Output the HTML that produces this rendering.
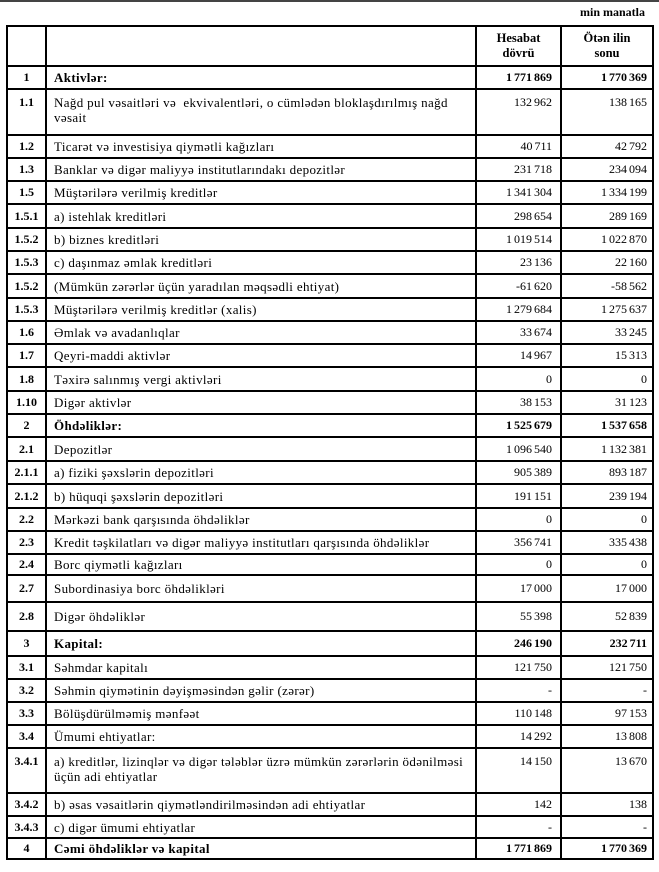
<!DOCTYPE html>
<html><head><meta charset="utf-8"><style>
html,body{margin:0;padding:0;background:#fff;width:659px;height:872px;overflow:hidden}
body{position:relative;font-family:"Liberation Serif","DejaVu Serif",serif;font-size:12px;color:#000}
.topline{position:absolute;left:0;top:0;width:659px;height:2px;background:#444}
.unit{position:absolute;right:14px;top:5px;font-weight:bold;font-size:12px}
table{position:absolute;left:6px;top:25px;border-collapse:collapse;table-layout:fixed;width:646px}
td{border:2px solid #000;padding:0 6px;vertical-align:middle;line-height:15px;overflow:hidden}
td.x{font-size:13px;letter-spacing:0.35px;padding-left:7px}
td.n{text-align:center;font-weight:bold;padding:0}
td.v{text-align:right;padding-right:8px;word-spacing:-1px}
td.w{text-align:right;padding-right:5px;word-spacing:-1px}
tr.b td{font-weight:bold}
tr.t td{vertical-align:top;padding-top:5px}
th{border:2px solid #000;font-weight:bold;line-height:15px;vertical-align:middle;font-size:12.5px}
</style></head><body>
<div class="topline"></div>
<div class="unit">min manatla</div>
<table>
<colgroup><col style="width:39px"><col style="width:430px"><col style="width:85px"><col style="width:92px"></colgroup>
<tr style="height:40px"><th></th><th></th><th>Hesabat<br>dövrü</th><th>Ötən ilin<br>sonu</th></tr>
<tr class="b" style="height:23px"><td class="n">1</td><td class="x">Aktivlər:</td><td class="v">1 771 869</td><td class="w">1 770 369</td></tr>
<tr class="t" style="height:46px"><td class="n">1.1</td><td class="x">Nağd pul vəsaitləri və&nbsp; ekvivalentləri, o cümlədən bloklaşdırılmış nağd vəsait</td><td class="v">132 962</td><td class="w">138 165</td></tr>
<tr style="height:23px"><td class="n">1.2</td><td class="x">Ticarət və investisiya qiymətli kağızları</td><td class="v">40 711</td><td class="w">42 792</td></tr>
<tr style="height:23px"><td class="n">1.3</td><td class="x">Banklar və digər maliyyə institutlarındakı depozitlər</td><td class="v">231 718</td><td class="w">234 094</td></tr>
<tr style="height:23px"><td class="n">1.5</td><td class="x">Müştərilərə verilmiş kreditlər</td><td class="v">1 341 304</td><td class="w">1 334 199</td></tr>
<tr style="height:24px"><td class="n">1.5.1</td><td class="x">a) istehlak kreditləri</td><td class="v">298 654</td><td class="w">289 169</td></tr>
<tr style="height:23px"><td class="n">1.5.2</td><td class="x">b) biznes kreditləri</td><td class="v">1 019 514</td><td class="w">1 022 870</td></tr>
<tr style="height:23px"><td class="n">1.5.3</td><td class="x">c) daşınmaz əmlak kreditləri</td><td class="v">23 136</td><td class="w">22 160</td></tr>
<tr style="height:24px"><td class="n">1.5.2</td><td class="x">(Mümkün zərərlər üçün yaradılan məqsədli ehtiyat)</td><td class="v">-61 620</td><td class="w">-58 562</td></tr>
<tr style="height:23px"><td class="n">1.5.3</td><td class="x">Müştərilərə verilmiş kreditlər (xalis)</td><td class="v">1 279 684</td><td class="w">1 275 637</td></tr>
<tr style="height:23px"><td class="n">1.6</td><td class="x">Əmlak və avadanlıqlar</td><td class="v">33 674</td><td class="w">33 245</td></tr>
<tr style="height:23px"><td class="n">1.7</td><td class="x">Qeyri-maddi aktivlər</td><td class="v">14 967</td><td class="w">15 313</td></tr>
<tr style="height:24px"><td class="n">1.8</td><td class="x">Təxirə salınmış vergi aktivləri</td><td class="v">0</td><td class="w">0</td></tr>
<tr style="height:23px"><td class="n">1.10</td><td class="x">Digər aktivlər</td><td class="v">38 153</td><td class="w">31 123</td></tr>
<tr class="b" style="height:23px"><td class="n">2</td><td class="x">Öhdəliklər:</td><td class="v">1 525 679</td><td class="w">1 537 658</td></tr>
<tr style="height:24px"><td class="n">2.1</td><td class="x">Depozitlər</td><td class="v">1 096 540</td><td class="w">1 132 381</td></tr>
<tr style="height:23px"><td class="n">2.1.1</td><td class="x">a) fiziki şəxslərin depozitləri</td><td class="v">905 389</td><td class="w">893 187</td></tr>
<tr style="height:24px"><td class="n">2.1.2</td><td class="x">b) hüquqi şəxslərin depozitləri</td><td class="v">191 151</td><td class="w">239 194</td></tr>
<tr style="height:23px"><td class="n">2.2</td><td class="x">Mərkəzi bank qarşısında öhdəliklər</td><td class="v">0</td><td class="w">0</td></tr>
<tr style="height:23px"><td class="n">2.3</td><td class="x">Kredit təşkilatları və digər maliyyə institutları qarşısında öhdəliklər</td><td class="v">356 741</td><td class="w">335 438</td></tr>
<tr style="height:21px"><td class="n">2.4</td><td class="x">Borc qiymətli kağızları</td><td class="v">0</td><td class="w">0</td></tr>
<tr style="height:27px"><td class="n">2.7</td><td class="x">Subordinasiya borc öhdəlikləri</td><td class="v">17 000</td><td class="w">17 000</td></tr>
<tr style="height:29px"><td class="n">2.8</td><td class="x">Digər öhdəliklər</td><td class="v">55 398</td><td class="w">52 839</td></tr>
<tr class="b" style="height:25px"><td class="n">3</td><td class="x">Kapital:</td><td class="v">246 190</td><td class="w">232 711</td></tr>
<tr style="height:23px"><td class="n">3.1</td><td class="x">Səhmdar kapitalı</td><td class="v">121 750</td><td class="w">121 750</td></tr>
<tr style="height:23px"><td class="n">3.2</td><td class="x">Səhmin qiymətinin dəyişməsindən gəlir (zərər)</td><td class="v">-</td><td class="w">-</td></tr>
<tr style="height:23px"><td class="n">3.3</td><td class="x">Bölüşdürülməmiş mənfəət</td><td class="v">110 148</td><td class="w">97 153</td></tr>
<tr style="height:23px"><td class="n">3.4</td><td class="x">Ümumi ehtiyatlar:</td><td class="v">14 292</td><td class="w">13 808</td></tr>
<tr class="t" style="height:45px"><td class="n">3.4.1</td><td class="x">a) kreditlər, lizinqlər və digər tələblər üzrə mümkün zərərlərin ödənilməsi<br>üçün adi ehtiyatlar</td><td class="v">14 150</td><td class="w">13 670</td></tr>
<tr style="height:23px"><td class="n">3.4.2</td><td class="x">b) əsas vəsaitlərin qiymətləndirilməsindən adi ehtiyatlar</td><td class="v">142</td><td class="w">138</td></tr>
<tr style="height:22px"><td class="n">3.4.3</td><td class="x">c) digər ümumi ehtiyatlar</td><td class="v">-</td><td class="w">-</td></tr>
<tr class="b" style="height:21px"><td class="n">4</td><td class="x">Cəmi öhdəliklər və kapital</td><td class="v">1 771 869</td><td class="w">1 770 369</td></tr>
</table>
</body></html>
